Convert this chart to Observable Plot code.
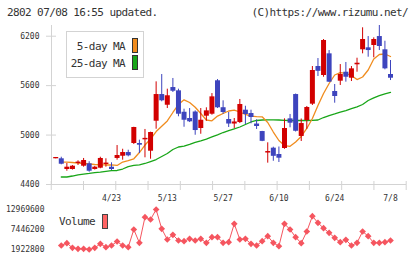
<!DOCTYPE html>
<html><head><meta charset="utf-8">
<script src="https://cdn.jsdelivr.net/npm/d3@7"></script>
<script src="https://cdn.jsdelivr.net/npm/@observablehq/plot@0.6"></script>
<style>
html,body{margin:0;padding:0;background:#fff;}
#wrap{position:relative;width:420px;height:259px;overflow:hidden;font-family:"DejaVu Sans Mono",monospace;color:#333;}
#wrap svg{position:absolute;left:0;}
.t{position:absolute;white-space:nowrap;font-size:11px;line-height:11px;letter-spacing:-0.6px;color:#333;}
.sw{position:absolute;box-sizing:border-box;border:1px solid #333;width:6px;height:15px;}
</style></head><body>
<div id="wrap">
  <div class="t" style="left:7px;top:7.4px">2802 07/08 16:55 updated.</div>
  <div class="t" style="right:12px;top:7.4px">(C)https://www.rizumu.net/</div>
</div>
<script>
// ---- data ----
const tickLabels = ["4/23","5/13","5/27","6/10","6/24","7/8"];
const tickIndex  = [10,20,30,40,50,60];
const priceTicks = [4400,5000,5600,6200];
const volumeTicks = [1922800,7446200,12969600];

const open  = [4712,4712,4582,4582,4655,4622,4651,4582,4598,4643,4610,4716,4743,4788,4898,4898,4942,4804,5168,5492,
               5362,5577,5537,5277,5201,5280,5080,5229,5253,5659,5332,5189,5134,5152,5302,5262,5134,5043,4782,4841,
               4764,4837,5197,5492,4983,5177,5375,5832,5723,5986,5529,5654,5763,5690,5853,6035,6059,6087,6196,6035,5735];
const high  = [4728,4731,4655,4630,4688,4716,4676,4620,4731,4712,4663,4873,4828,4816,5095,4938,5068,5035,5646,5735,
               5557,5687,5557,5314,5322,5294,5322,5331,5504,5674,5416,5274,5201,5432,5350,5302,5185,5045,4906,4853,
               4855,5197,5250,5498,5195,5347,5832,5929,6160,6026,5614,5856,5881,5832,5933,6302,6196,6180,6330,6139,5905];
const low   = [4712,4639,4561,4575,4631,4610,4549,4575,4591,4610,4570,4695,4695,4736,4885,4776,4724,4707,5071,5404,
               5322,5517,5222,5095,5152,4998,5010,5168,5241,5322,5253,5092,5080,5140,5128,5137,5068,4920,4659,4682,
               4667,4827,5088,5037,4922,5070,5359,5711,5702,5638,5387,5602,5642,5650,5763,5986,5945,5938,6026,5792,5662];
const close = [4728,4646,4610,4622,4672,4691,4561,4610,4716,4660,4582,4752,4788,4748,5092,4877,4960,5031,5492,5416,
               5477,5532,5253,5180,5161,5055,5180,5294,5464,5331,5274,5134,5159,5371,5250,5213,5104,4924,4800,4742,
               4719,5080,5144,5046,5140,5335,5784,5774,6148,5642,5468,5735,5702,5804,5872,6160,6026,6160,6075,5804,5690];
const ma5   = [null,4671,4671,4667,4659,4655,4649,4643,4639,4637,4637,4631,4673,4691,4712,4788,4879,4952,5043,5108,
               5171,5274,5371,5428,5395,5338,5262,5183,5173,5231,5262,5292,5302,5280,5250,5231,5225,5222,5153,5037,
               4934,4873,4864,4916,4983,5080,5201,5359,5505,5626,5729,5759,5750,5723,5674,5705,5790,5923,5978,5984,5954];
const ma25  = [null,4491,4491,4503,4518,4527,4534,4543,4549,4560,4568,4570,4588,4616,4631,4639,4655,4679,4703,4740,
               4776,4825,4855,4865,4886,4910,4930,4952,4977,5003,5031,5055,5076,5098,5128,5159,5177,5183,5185,5185,
               5183,5179,5177,5177,5177,5177,5179,5183,5213,5237,5256,5278,5298,5322,5343,5371,5420,5452,5480,5501,5517];
const volume = [null,3027000,3672000,2383000,2107000,2107000,1922800,2383000,3488000,2567000,3027000,4132000,3027000,2567000,7446000,
                3764000,10852000,10208000,12969600,7631000,4684000,5974000,4408000,4224000,4869000,4408000,4869000,3764000,5329000,5329000,
                3764000,3948000,9012000,4684000,4869000,3488000,3027000,4224000,5605000,3764000,2843000,9012000,7446000,5329000,3672000,
                6894000,11129000,9288000,7814000,6526000,5145000,3948000,4593000,3027000,3764000,6894000,5605000,3764000,3764000,3948000,4408000];

const rows = open.map((o, i) => ({
  i, open: o, high: high[i], low: low[i], close: close[i],
  ma5: ma5[i], ma25: ma25[i], volume: volume[i], up: close[i] >= o
}));

// ---- styles ----
const UP = "#d20000", DOWN = "#3d44bd", GRID = "#d3d3d3";
const ORANGE = "#f08c1e", GREEN = "#19a619", VOL = "#f5555f";
const baseStyle = {background: "none", overflow: "visible", fontFamily: "'DejaVu Sans Mono', monospace", fontSize: "8px", color: "#333"};
const xRange = [55.2, 390];
// evenly spaced decorative ticks along the bottom frame
const frameTicks = d3.range(12).map(k => -0.8 + 5.783 * k);
const candleColor = d => d.up ? UP : DOWN;

const price = Plot.plot({
  width: 420, height: 200,
  marginTop: 25, marginBottom: 16, marginLeft: 51, marginRight: 15,
  style: baseStyle,
  x: {domain: [0, 60], range: xRange, label: null},
  y: {domain: [4400, 6330], label: null},
  marks: [
    Plot.frame({anchor: "left", stroke: GRID}),
    Plot.frame({anchor: "bottom", stroke: GRID}),
    Plot.axisY(priceTicks, {tickSize: 10, dx: 5, tickFormat: () => "", stroke: GRID, label: null}),
    Plot.axisY(priceTicks, {tickSize: 0, tickPadding: 12, tickFormat: d => String(d), fill: "#333", label: null}),
    Plot.axisX(frameTicks, {tickSize: 9, dy: -3, tickFormat: () => "", stroke: GRID, label: null}),
    Plot.axisX(tickIndex, {tickSize: 0, tickPadding: 11, tickFormat: d => tickLabels[tickIndex.indexOf(d)], fill: "#333", label: null}),
    Plot.line(rows, {x: "i", y: "ma25", stroke: GREEN, strokeWidth: 1.3}),
    Plot.line(rows, {x: "i", y: "ma5", stroke: ORANGE, strokeWidth: 1.3}),
    Plot.ruleX(rows, {x: "i", y1: "low", y2: "high", stroke: candleColor, strokeWidth: 1}),
    Plot.ruleX(rows, {x: "i", y1: "open", y2: "close", stroke: candleColor, strokeWidth: 5})
  ]
});
price.style.top = "0px";

const vol = Plot.plot({
  width: 420, height: 59,
  marginTop: 9, marginBottom: 10, marginLeft: 51, marginRight: 15,
  style: baseStyle,
  x: {domain: [0, 60], range: xRange, axis: null},
  y: {domain: [volumeTicks[0], volumeTicks[2]], label: null},
  marks: [
    Plot.axisY(volumeTicks, {tickSize: 0, tickPadding: 7, tickFormat: d => String(d), fill: "#333", label: null}),
    Plot.line(rows, {x: "i", y: "volume", stroke: VOL, strokeWidth: 1}),
    Plot.dot(rows, {x: "i", y: "volume", symbol: "diamond2", r: 3, fill: VOL, stroke: "none"})
  ]
});
vol.style.top = "200px";

const wrap = document.getElementById("wrap");
wrap.appendChild(price);
wrap.appendChild(vol);

// legends (HTML overlays)
function add(html) { wrap.insertAdjacentHTML("beforeend", html); }
add('<div style="position:absolute;left:65.5px;top:30.5px;width:78px;height:47px;box-sizing:border-box;border:1px solid #d3d3d3;background:#fff"></div>');
add('<div class="t" style="right:295px;top:41.2px">5-day MA</div>');
add('<div class="t" style="right:295px;top:58px">25-day MA</div>');
add('<div class="sw" style="left:131.5px;top:37.5px;background:' + ORANGE + '"></div>');
add('<div class="sw" style="left:131.5px;top:54.5px;background:' + GREEN + '"></div>');
add('<div class="t" style="left:59px;top:216.4px">Volume</div>');
add('<div class="sw" style="left:101.5px;top:213.5px;background:#ff6464;border-color:#444"></div>');
</script>
</body></html>
